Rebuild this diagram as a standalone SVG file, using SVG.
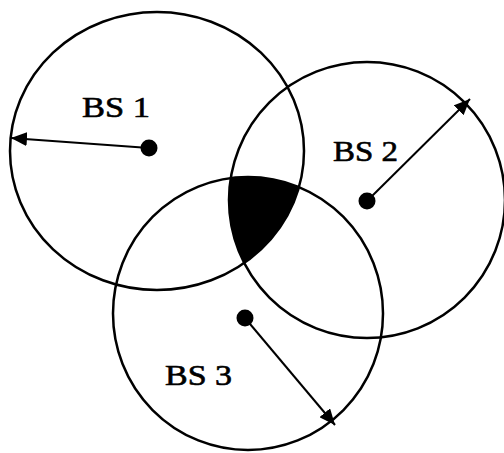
<svg xmlns="http://www.w3.org/2000/svg" width="504" height="453" viewBox="0 0 504 453">
  <style>
    .cell { fill: none; stroke: #000; stroke-width: 2.5; }
    .dot { fill: #000; }
    .radius { stroke: #000; stroke-width: 2; fill: none; }
    .label { font-family: "Liberation Serif", "Times New Roman", serif; font-size: 29px; fill: #000; stroke: #000; stroke-width: 0.6; }
  </style>
  <defs>
    <marker id="arrow" viewBox="0 0 16 14" refX="16" refY="7" markerWidth="16" markerHeight="14" markerUnits="userSpaceOnUse" orient="auto">
      <path d="M0,0 L16,7 L0,14 Z" fill="#000"/>
    </marker>
    <clipPath id="clip2"><circle cx="367" cy="200" r="138"/></clipPath>
    <clipPath id="clip3"><ellipse cx="248" cy="313.5" rx="135" ry="136.5"/></clipPath>
  </defs>
  <rect x="0" y="0" width="504" height="453" fill="#fff"/>

  <g id="overlap" clip-path="url(#clip3)">
    <ellipse cx="157" cy="151" rx="147" ry="139" fill="#000" clip-path="url(#clip2)"/>
  </g>

  <g id="bs1">
    <ellipse class="cell" cx="157" cy="151" rx="147" ry="139"/>
    <circle class="dot" cx="149" cy="148" r="8.5"/>
    <text class="label" x="82" y="117" textLength="68" lengthAdjust="spacingAndGlyphs">BS 1</text>
  </g>
  <g id="bs2">
    <circle class="cell" cx="367" cy="200" r="138"/>
    <circle class="dot" cx="367" cy="201" r="8.5"/>
    <text class="label" x="333" y="161" textLength="65" lengthAdjust="spacingAndGlyphs">BS 2</text>
  </g>
  <g id="bs3">
    <ellipse class="cell" cx="248" cy="313.5" rx="135" ry="136.5"/>
    <circle class="dot" cx="245" cy="318" r="8.5"/>
    <text class="label" x="165" y="385" textLength="67" lengthAdjust="spacingAndGlyphs">BS 3</text>
  </g>

  <g id="connectors">
    <line class="radius" x1="149" y1="148" x2="11" y2="138" marker-end="url(#arrow)"/>
    <line class="radius" x1="367" y1="201" x2="470" y2="99" marker-end="url(#arrow)"/>
    <line class="radius" x1="245" y1="318" x2="335" y2="425" marker-end="url(#arrow)"/>
  </g>
</svg>
